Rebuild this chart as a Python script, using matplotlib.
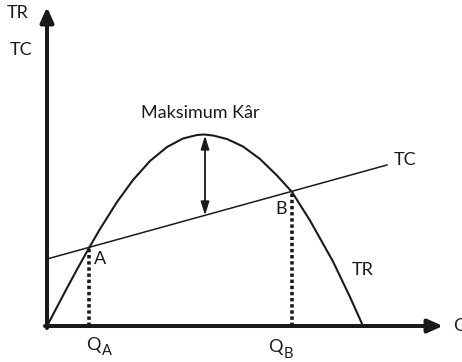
import numpy as np
import matplotlib
matplotlib.use("Agg")
import matplotlib.pyplot as plt

# Data (Q and value in pixel-like units)
q_tr = [0, 10, 20, 30, 42, 53, 70, 86, 103, 120, 136, 150, 157, 166, 180,
        196, 213, 230, 245, 263, 286, 303, 316]
tr = [0, 19, 38, 56.5, 78, 97, 124, 146, 165, 179, 187.5, 191, 191.5, 190.5, 187,
      179.5, 167, 150.5, 134, 105.5, 64.5, 29, 0]

q_tc = [0, 340]
tc = [67, 161]

q_a = 42
q_b = 245
q_max = 158

plt.rcParams['font.family'] = ['Lato', 'DejaVu Sans']

fig = plt.figure(figsize=(4.62, 3.62), dpi=100)
ax = fig.add_axes([0, 0, 1, 1])
ax.set_xlim(-47, 415)
ax.set_ylim(-36, 326)
ax.axis("off")

# axes with arrows
ax.annotate("", xy=(396, 0), xytext=(-2, 0),
            arrowprops=dict(arrowstyle="-|>,head_length=0.9,head_width=0.4",
                            lw=2.9, color="#1a1a1a", shrinkA=0, shrinkB=0))
ax.annotate("", xy=(0, 319), xytext=(0, -2),
            arrowprops=dict(arrowstyle="-|>,head_length=0.9,head_width=0.4",
                            lw=2.9, color="#1a1a1a", shrinkA=0, shrinkB=0))

# curves
ax.plot(q_tr, tr, color="#1a1a1a", lw=1.5, solid_joinstyle="round")
ax.plot(q_tc, tc, color="#1a1a1a", lw=1.1)

# dotted drop lines
tc_a = np.interp(q_a, q_tc, tc)
tc_b = np.interp(q_b, q_tc, tc)
for q, v in [(q_a, tc_a), (q_b, tc_b)]:
    ax.plot([q, q], [0, v], color="#1a1a1a", lw=2.6,
            linestyle=(0, (0.95, 0.75)), dash_capstyle="butt")

# profit arrow
tc_m = np.interp(q_max, q_tc, tc)
tr_m = np.interp(q_max, q_tr, tr)
ax.annotate("", xy=(q_max, tc_m), xytext=(q_max, tr_m - 1),
            arrowprops=dict(arrowstyle="<|-|>,head_length=0.8,head_width=0.25",
                            lw=1.3, color="#1a1a1a", shrinkA=0, shrinkB=0))

txt = dict(color="#1a1a1a", fontsize=13, ha="center", va="center")
sub = dict(color="#1a1a1a", fontsize=10.5, ha="center", va="center")
ax.text(-29, 313, "TR", **txt)
ax.text(-26, 276, "TC", **txt)
ax.text(153, 213, "Maksimum Kâr", **txt)
ax.text(358, 166, "TC", **txt)
ax.text(316, 56, "TR", **txt)
ax.text(53, 67, "A", **txt)
ax.text(234, 117, "B", **txt)
ax.text(46, -19, "Q", **txt)
ax.text(60, -25, "A", **sub)
ax.text(228, -21, "Q", **txt)
ax.text(241, -28, "B", **sub)
ax.text(413, 0, "Q", **txt)

fig.savefig("out.png", dpi=100)
